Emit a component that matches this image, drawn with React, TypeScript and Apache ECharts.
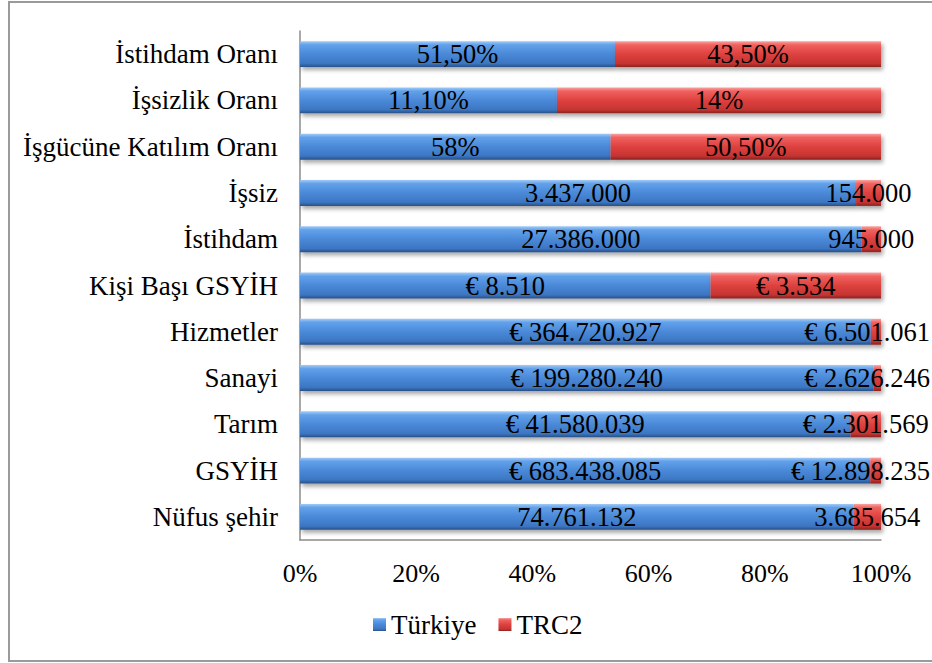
import React, { useEffect, useRef } from "react";
import * as echarts from "echarts";

const categories = [
  "İstihdam Oranı",
  "İşsizlik Oranı",
  "İşgücüne Katılım Oranı",
  "İşsiz",
  "İstihdam",
  "Kişi Başı GSYİH",
  "Hizmetler",
  "Sanayi",
  "Tarım",
  "GSYİH",
  "Nüfus şehir",
];
const turkiye = [51.5, 11.1, 58, 3437000, 27386000, 8510, 364720927, 199280240, 41580039, 683438085, 74761132];
const trc2 = [43.5, 14, 50.5, 154000, 945000, 3534, 6501061, 2626246, 2301569, 12898235, 3685654];
const units = ["pct", "pct", "pct", "num", "num", "eur", "eur", "eur", "eur", "eur", "num"];
const seriesNames = ["Türkiye", "TRC2"];
const xTicks = { min: 0, max: 100, interval: 20 };

const FONT = "Liberation Serif";

function groupThousands(v: number): string {
  return String(Math.round(v)).replace(/\B(?=(\d{3})+(?!\d))/g, ".");
}
function formatValue(v: number, unit: string): string {
  if (unit === "pct") {
    return Number.isInteger(v) ? `${v}%` : `${v.toFixed(2).replace(".", ",")}%`;
  }
  if (unit === "eur") return `€ ${groupThousands(v)}`;
  return groupThousands(v);
}

const blueGrad = new echarts.graphic.LinearGradient(0, 0, 0, 1, [
  { offset: 0, color: "#a2cbf6" },
  { offset: 0.14, color: "#62a1ea" },
  { offset: 0.5, color: "#4a89d8" },
  { offset: 0.86, color: "#3c76c2" },
  { offset: 1, color: "#284f86" },
]);
const redGrad = new echarts.graphic.LinearGradient(0, 0, 0, 1, [
  { offset: 0, color: "#f8a4a2" },
  { offset: 0.14, color: "#f0625f" },
  { offset: 0.5, color: "#de413f" },
  { offset: 0.86, color: "#c53431" },
  { offset: 1, color: "#8a2220" },
]);

const RIGHT_LIMIT = 930;

export default function App() {
  const ref = useRef<HTMLDivElement>(null);
  useEffect(() => {
    if (!ref.current) return;
    const chart = echarts.init(ref.current, null, { renderer: "svg" });
    const totals = turkiye.map((t, i) => t + trc2[i]);
    const mk = (vals: number[], idx: number, grad: any) => ({
      name: seriesNames[idx],
      type: "bar",
      stack: "total",
      barWidth: "56%",
      data: vals.map((v, i) => ({ value: (v / totals[i]) * 100, raw: v, unit: units[i] })),
      itemStyle: {
        color: grad,
        shadowColor: "rgba(0,0,0,0.35)",
        shadowBlur: 4,
        shadowOffsetX: 2,
        shadowOffsetY: 3,
      },
      label: {
        show: true,
        position: "inside",
        color: "#000",
        fontFamily: FONT,
        fontSize: 26.5,
        formatter: (p: any) => formatValue(p.data.raw, p.data.unit),
      },
      labelLayout: (p: any) => {
        const r = p.labelRect;
        const over = r.x + r.width - RIGHT_LIMIT;
        return over > 0 ? { dx: -over } : {};
      },
      emphasis: { disabled: true },
    });
    chart.setOption({
      animation: false,
      backgroundColor: "#fff",
      textStyle: { fontFamily: FONT },
      grid: { left: 300, right: 51, top: 31, bottom: 123, containLabel: false },
      legend: {
        data: seriesNames.map((n, i) => ({ name: n, itemStyle: { color: i === 0 ? blueGrad : redGrad } })),
        bottom: 20,
        left: 368,
        icon: "rect",
        itemWidth: 13,
        itemHeight: 13,
        itemGap: 22,
        textStyle: { fontFamily: FONT, fontSize: 27, color: "#000" },
      },
      xAxis: {
        type: "value",
        min: xTicks.min,
        max: xTicks.max,
        interval: xTicks.interval,
        axisLine: { show: true, lineStyle: { color: "#8c8c8c", width: 1.5 } },
        axisTick: { show: false },
        splitLine: { show: false },
        axisLabel: {
          formatter: "{value}%",
          fontFamily: FONT,
          fontSize: 26,
          color: "#000",
          margin: 20,
        },
      },
      yAxis: {
        type: "category",
        inverse: true,
        data: categories,
        axisLine: { show: true, lineStyle: { color: "#8c8c8c", width: 1.5 } },
        axisTick: { show: false },
        axisLabel: { fontFamily: FONT, fontSize: 27, color: "#000", margin: 22 },
      },
      series: [mk(turkiye, 0, blueGrad), mk(trc2, 1, redGrad)],
      graphic: [
        {
          type: "rect",
          shape: { x: 9, y: 2, width: 960, height: 659 },
          style: { fill: "none", stroke: "#9a9a9a", lineWidth: 2 },
          silent: true,
        },
      ],
    });
    return () => chart.dispose();
  }, []);
  return (
    <div
      ref={ref}
      style={{ position: "fixed", left: 0, top: 0, width: 932, height: 663 }}
    />
  );
}
